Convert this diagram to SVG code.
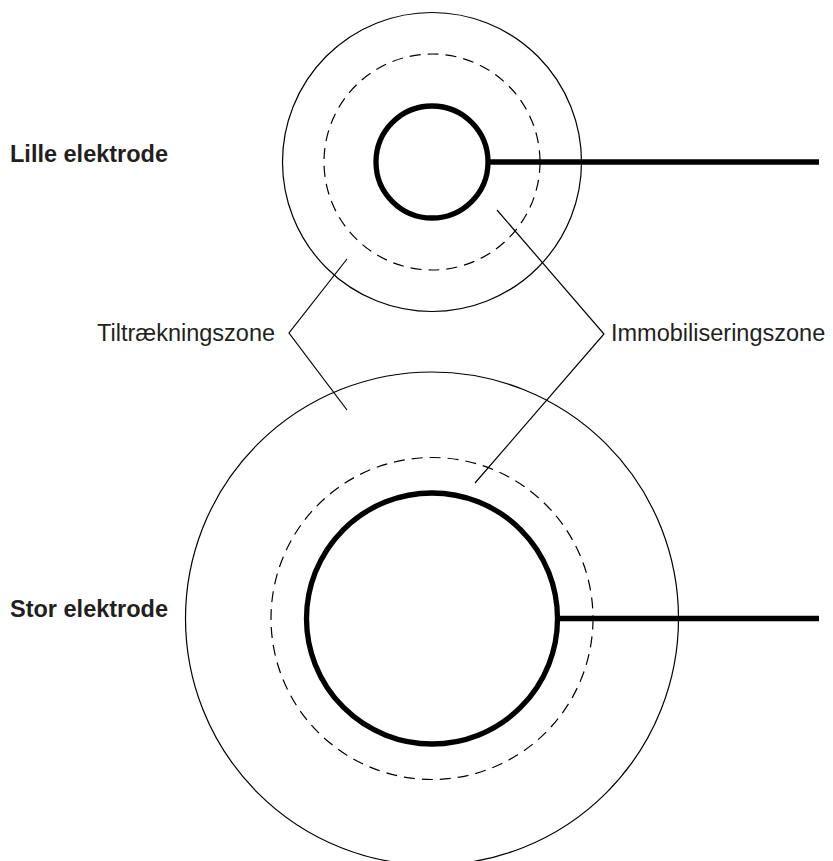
<svg xmlns="http://www.w3.org/2000/svg" width="833" height="861" viewBox="0 0 833 861">
<style>
.thin{fill:none;stroke:#000;stroke-width:1.2}
.dash{fill:none;stroke:#000;stroke-width:1.2;stroke-dasharray:11 7}
.thick{fill:none;stroke:#000;stroke-width:5.3}
.lbl{font-family:"Liberation Sans",Arial,sans-serif;font-size:23.5px;fill:#231f20}
.b{font-weight:bold}
</style>
<rect width="833" height="861" fill="#fff"/>
<g id="small-electrode">
<circle class="thin" cx="432" cy="162" r="149.5"/>
<circle class="dash" cx="432" cy="162" r="108"/>
<circle class="thick" cx="432" cy="162" r="56"/>
<line class="thick" x1="488" y1="162" x2="819" y2="162"/>
</g>
<g id="large-electrode">
<circle class="thin" cx="432" cy="618.5" r="246.5"/>
<circle class="dash" cx="432" cy="618.5" r="161"/>
<circle class="thick" cx="432" cy="618.5" r="125.5"/>
<line class="thick" x1="557.5" y1="618.5" x2="819" y2="618.5"/>
</g>
<g id="connectors">
<polyline class="thin" points="347,259 289,333 347,410"/>
<polyline class="thin" points="497,210 604,334 475,483"/>
</g>
<g id="labels">
<text class="lbl b" x="10" y="162">Lille elektrode</text>
<text class="lbl b" x="10" y="617">Stor elektrode</text>
<text class="lbl" x="97" y="341">Tiltrækningszone</text>
<text class="lbl" x="611" y="341">Immobiliseringszone</text>
</g>
</svg>
